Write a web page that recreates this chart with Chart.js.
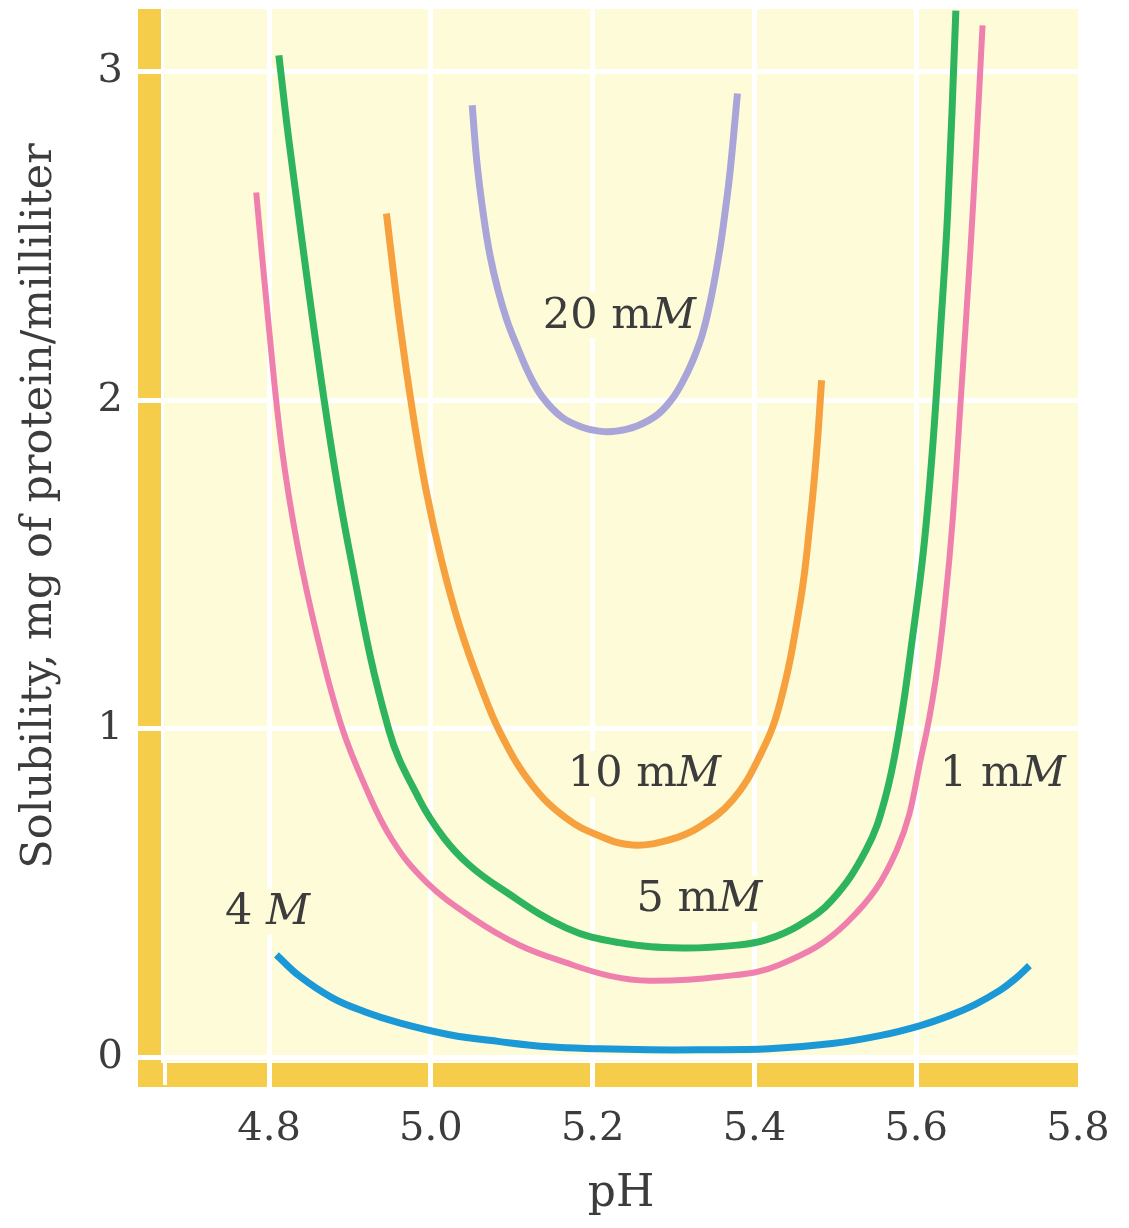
<!DOCTYPE html>
<html>
<head>
<meta charset="utf-8">
<title>Solubility vs pH</title>
<script src="https://cdn.jsdelivr.net/npm/chart.js@4.4.1/dist/chart.umd.min.js"></script>
<style>
  html, body { margin: 0; padding: 0; background: #fff; }
  #wrap { width: 1129px; height: 1228px; }
</style>
</head>
<body>
<div id="wrap"><canvas id="chart" width="1129" height="1228"></canvas></div>
<script>
// --- DATA ---
const xTicks = [4.8, 5.0, 5.2, 5.4, 5.6, 5.8];
const yTicks = [0, 1, 2, 3];

// 4 M
const ph4M  = [4.809, 4.837, 4.878, 4.918, 4.961, 5.023, 5.085, 5.146, 5.208, 5.270, 5.332, 5.418, 5.496, 5.555, 5.604, 5.641, 5.672, 5.703, 5.721, 5.740];
const sol4M = [0.313, 0.249, 0.182, 0.140, 0.106, 0.070, 0.049, 0.033, 0.027, 0.024, 0.024, 0.027, 0.043, 0.067, 0.097, 0.128, 0.161, 0.204, 0.237, 0.280];

// 1 mM
const ph1mM  = [4.784, 4.800, 4.816, 4.835, 4.859, 4.889, 4.918, 4.952, 4.994, 5.051, 5.109, 5.167, 5.221, 5.270, 5.357, 5.431, 5.514, 5.576, 5.608, 5.624, 5.636, 5.645, 5.655, 5.667, 5.674, 5.682];
const sol1mM = [2.632, 2.213, 1.848, 1.559, 1.286, 1.012, 0.830, 0.663, 0.535, 0.426, 0.343, 0.289, 0.249, 0.234, 0.246, 0.283, 0.410, 0.632, 0.936, 1.149, 1.392, 1.635, 2.000, 2.456, 2.760, 3.140];

// 5 mM
const ph5mM  = [4.812, 4.826, 4.868, 4.899, 4.948, 4.986, 5.016, 5.047, 5.085, 5.167, 5.233, 5.311, 5.381, 5.415, 5.456, 5.496, 5.538, 5.561, 5.579, 5.595, 5.609, 5.620, 5.630, 5.639, 5.649];
const sol5mM = [3.049, 2.760, 2.000, 1.544, 0.997, 0.784, 0.669, 0.587, 0.517, 0.395, 0.350, 0.334, 0.343, 0.359, 0.404, 0.480, 0.632, 0.784, 0.997, 1.271, 1.544, 1.848, 2.213, 2.578, 3.185];

// 10 mM
const ph10mM  = [4.945, 4.961, 4.977, 4.994, 5.013, 5.035, 5.060, 5.087, 5.125, 5.167, 5.208, 5.249, 5.295, 5.332, 5.373, 5.406, 5.431, 5.457, 5.469, 5.477, 5.483];
const sol10mM = [2.568, 2.243, 1.970, 1.726, 1.514, 1.316, 1.140, 0.982, 0.830, 0.729, 0.675, 0.647, 0.663, 0.702, 0.784, 0.915, 1.073, 1.392, 1.635, 1.848, 2.061];

// 20 mM
const ph20mM  = [5.051, 5.057, 5.065, 5.073, 5.083, 5.094, 5.107, 5.122, 5.138, 5.162, 5.187, 5.208, 5.229, 5.254, 5.279, 5.297, 5.311, 5.324, 5.336, 5.347, 5.357, 5.364, 5.370, 5.379];
const sol20mM = [2.897, 2.720, 2.562, 2.441, 2.334, 2.243, 2.161, 2.076, 2.009, 1.948, 1.918, 1.906, 1.906, 1.921, 1.954, 2.000, 2.055, 2.122, 2.204, 2.319, 2.456, 2.578, 2.699, 2.933];

const seriesNames  = ['4 M', '1 mM', '5 mM', '10 mM', '20 mM'];
const seriesColors = ['#1b98d6', '#ef80ae', '#2db45c', '#f6a13e', '#a9a5d8'];

// curve labels: number part, italic unit, anchor in data units
const labelText = ['4 ', '1 m', '5 m', '10 m', '20 m'];
const labelUnit = ['M', 'M', 'M', 'M', 'M'];
const labelPH   = [4.798, 5.707, 5.332, 5.264, 5.233];
const labelSol  = [0.441, 0.860, 0.480, 0.860, 2.255];

// --- STYLE ---
const FONT = "'DejaVu Serif', 'Liberation Serif', serif";
const PLOT = '#fefbd9';
const BAND = '#f6cd4b';
const INK = '#3c3c3c';

const toPoints = (xs, ys) => xs.map((x, i) => ({ x: x, y: ys[i] }));
const allX = [ph4M, ph1mM, ph5mM, ph10mM, ph20mM];
const allY = [sol4M, sol1mM, sol5mM, sol10mM, sol20mM];

const datasets = seriesNames.map((name, i) => ({
    label: name,
    data: toPoints(allX[i], allY[i]),
    borderColor: seriesColors[i],
    borderWidth: i === 1 ? 6 : 7,
    borderCapStyle: 'butt',
    borderJoinStyle: 'round',
    pointRadius: 0,
    fill: false,
    tension: 0.4
}));

// background, yellow frame bands, curve labels, rotated y title
const framePlugin = {
    id: 'frame',
    beforeDraw(chart) {
        const { ctx, chartArea: a } = chart;
        ctx.save();
        ctx.fillStyle = PLOT;
        ctx.fillRect(a.left, a.top, a.right - a.left, a.bottom - a.top);
        ctx.fillStyle = BAND;
        ctx.fillRect(a.left - 26, a.top, 23, a.bottom - a.top + 26);
        ctx.fillRect(a.left - 26, a.bottom + 2, a.right - a.left + 26, 24);
        ctx.fillStyle = '#fff';
        ctx.fillRect(a.left - 1, a.bottom, 4, 24);
        ctx.restore();
    },
    beforeDatasetsDraw(chart) {
        const { ctx, scales } = chart;
        ctx.save();
        ctx.textBaseline = 'middle';
        labelText.forEach((t, i) => {
            const cx = scales.x.getPixelForValue(labelPH[i]);
            const cy = scales.y.getPixelForValue(labelSol[i]);
            ctx.font = `43px ${FONT}`;
            const w1 = ctx.measureText(t).width;
            ctx.font = `italic 43px ${FONT}`;
            const w2 = ctx.measureText(labelUnit[i]).width;
            const x0 = cx - (w1 + w2) / 2;
            ctx.fillStyle = PLOT;
            ctx.fillRect(x0 - 6, cy - 24, w1 + w2 + 12, 46);
            ctx.fillStyle = INK;
            ctx.font = `43px ${FONT}`;
            ctx.fillText(t, x0, cy);
            ctx.font = `italic 43px ${FONT}`;
            ctx.fillText(labelUnit[i], x0 + w1, cy);
        });
        ctx.restore();
    },
    afterDraw(chart) {
        const { ctx, chartArea: a } = chart;
        ctx.save();
        ctx.translate(40, (a.top + a.bottom) / 2 - 29);
        ctx.rotate(-Math.PI / 2);
        ctx.font = `43px ${FONT}`;
        ctx.fillStyle = INK;
        ctx.textAlign = 'center';
        ctx.textBaseline = 'middle';
        ctx.fillText('Solubility, mg of protein/milliliter', 0, 0);
        ctx.restore();
    }
};

new Chart(document.getElementById('chart'), {
    type: 'line',
    data: { datasets: datasets },
    plugins: [framePlugin],
    options: {
        responsive: false,
        animation: false,
        devicePixelRatio: 1,
        layout: { padding: { top: 9, right: 51, left: 0, bottom: 0 } },
        plugins: { legend: { display: false }, tooltip: { enabled: false } },
        scales: {
            x: {
                type: 'linear',
                min: 4.67,
                max: 5.8,
                afterBuildTicks: s => { s.ticks = xTicks.map(v => ({ value: v })); },
                afterFit: s => { s.height = 167; s.paddingLeft = 0; s.paddingRight = 0; },
                grid: {
                    color: c => (c.tick && c.tick.value === 5.8) ? 'rgba(0,0,0,0)' : '#ffffff',
                    lineWidth: 5,
                    drawTicks: true,
                    tickLength: 26
                },
                border: { display: false },
                ticks: {
                    padding: 19,
                    color: INK,
                    font: { family: FONT, size: 40 },
                    callback: v => v.toFixed(1)
                },
                title: {
                    display: true,
                    text: 'pH',
                    color: INK,
                    font: { family: FONT, size: 44 },
                    padding: { top: 0, bottom: 7 }
                }
            },
            y: {
                type: 'linear',
                min: -0.01,
                max: 3.19,
                afterBuildTicks: s => { s.ticks = yTicks.map(v => ({ value: v })); },
                afterFit: s => { s.width = 164; s.paddingTop = 0; s.paddingBottom = 0; },
                grid: {
                    color: '#ffffff',
                    lineWidth: 5,
                    drawTicks: true,
                    tickLength: 26
                },
                border: { display: false },
                ticks: {
                    padding: 15,
                    color: INK,
                    font: { family: FONT, size: 40 },
                    callback: v => String(v)
                }
            }
        }
    }
});
</script>
</body>
</html>
